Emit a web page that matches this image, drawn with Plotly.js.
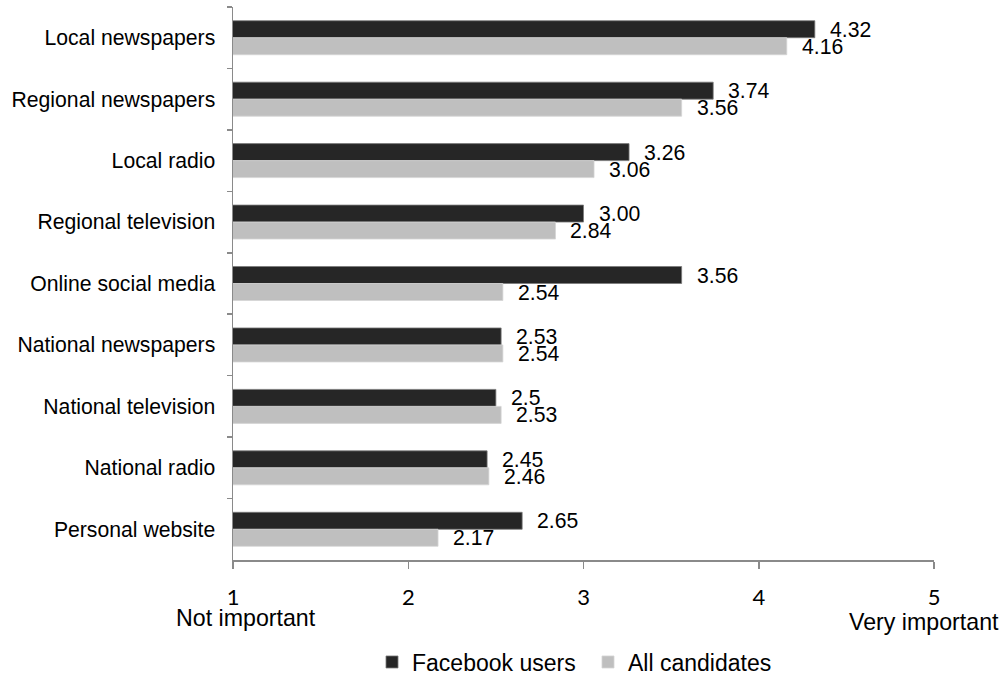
<!DOCTYPE html>
<html>
<head>
<meta charset="utf-8">
<script src="https://cdn.plot.ly/plotly-3.0.1.min.js"></script>
<style>
  html, body { margin: 0; padding: 0; background: #ffffff; }
  #chart { width: 1004px; height: 675px; }
</style>
</head>
<body>
<div id="chart"></div>
<script>
// Media channels, listed top to bottom
const categories = [
  "Local newspapers",
  "Regional newspapers",
  "Local radio",
  "Regional television",
  "Online social media",
  "National newspapers",
  "National television",
  "National radio",
  "Personal website"
];

// Mean importance scores (1 = not important, 5 = very important), as printed
const facebookLabels = ["4.32", "3.74", "3.26", "3.00", "3.56", "2.53", "2.5", "2.45", "2.65"];
const allLabels      = ["4.16", "3.56", "3.06", "2.84", "2.54", "2.54", "2.53", "2.46", "2.17"];

const facebookValues = facebookLabels.map(Number);
const allValues      = allLabels.map(Number);

const seriesNames = ["Facebook users", "All candidates"];
const xTicks = [1, 2, 3, 4, 5];

const DARK = "#262626";
const LIGHT = "#bfbfbf";
const SANS = "Liberation Sans, Arial, sans-serif";
const TEXT_FONT = { family: SANS, size: 21.2, color: "#000000" };

const traces = [
  {
    type: "bar",
    orientation: "h",
    name: seriesNames[0],
    y: categories,
    x: facebookValues,
    marker: { color: DARK, line: { color: "#7a7a7a", width: 0.8 } },
    hoverinfo: "x+y"
  },
  {
    type: "bar",
    orientation: "h",
    name: seriesNames[1],
    y: categories,
    x: allValues,
    marker: { color: LIGHT, line: { color: "#d4d4d4", width: 0.8 } },
    hoverinfo: "x+y"
  }
];

// Value labels placed just past the end of each bar
const annotations = [];
categories.forEach((cat, i) => {
  annotations.push({
    x: facebookValues[i], y: cat, xref: "x", yref: "y",
    text: facebookLabels[i], showarrow: false,
    xanchor: "left", yanchor: "middle", xshift: 13, yshift: 8.5,
    font: TEXT_FONT
  });
  annotations.push({
    x: allValues[i], y: cat, xref: "x", yref: "y",
    text: allLabels[i], showarrow: false,
    xanchor: "left", yanchor: "middle", xshift: 13, yshift: -8.5,
    font: TEXT_FONT
  });
});

// Scale end descriptions under the first and last ticks
annotations.push({
  x: xTicks[0], y: 0, xref: "x", yref: "paper",
  text: "Not important", showarrow: false,
  xanchor: "left", yanchor: "middle", xshift: -59, yshift: -58,
  font: { family: SANS, size: 23.2, color: "#000000" }
});
annotations.push({
  x: xTicks[xTicks.length - 1], y: 0, xref: "x", yref: "paper",
  text: "Very important", showarrow: false,
  xanchor: "right", yanchor: "middle", xshift: 67, yshift: -62,
  font: { family: SANS, size: 23.2, color: "#000000" }
});

const layout = {
  width: 1004,
  height: 675,
  margin: { l: 233, r: 70, t: 7, b: 115, pad: 0, autoexpand: false },
  paper_bgcolor: "#ffffff",
  plot_bgcolor: "#ffffff",
  barmode: "group",
  bargap: 0.447,
  bargroupgap: 0,
  showlegend: true,
  legend: {
    orientation: "h",
    x: 0.1983, xanchor: "left",
    y: -0.1845, yanchor: "middle",
    entrywidth: 171,
    entrywidthmode: "pixels",
    font: { family: SANS, size: 23, color: "#000000" },
    traceorder: "normal",
    bgcolor: "rgba(0,0,0,0)"
  },
  xaxis: {
    range: [1, 5],
    tickvals: xTicks,
    ticktext: xTicks.map(String),
    showgrid: false,
    zeroline: false,
    showline: true,
    linecolor: "#8a8a8a",
    linewidth: 1.5,
    ticks: "outside",
    ticklen: 7,
    tickwidth: 1.5,
    tickcolor: "#8a8a8a",
    tickfont: { family: "Lato, Carlito, sans-serif", size: 22, color: "#000000" },
    ticklabelstandoff: 10,
    automargin: false,
    fixedrange: true
  },
  yaxis: {
    type: "category",
    categoryorder: "array",
    categoryarray: categories,
    autorange: "reversed",
    showgrid: false,
    zeroline: false,
    showline: true,
    linecolor: "#8a8a8a",
    linewidth: 1.5,
    ticks: "outside",
    tickson: "boundaries",
    ticklen: 5,
    tickwidth: 1.5,
    tickcolor: "#8a8a8a",
    tickfont: TEXT_FONT,
    ticklabelstandoff: 12,
    automargin: false,
    fixedrange: true
  },
  annotations: annotations
};

Plotly.newPlot("chart", traces, layout, { displayModeBar: false, staticPlot: true });
</script>
</body>
</html>
